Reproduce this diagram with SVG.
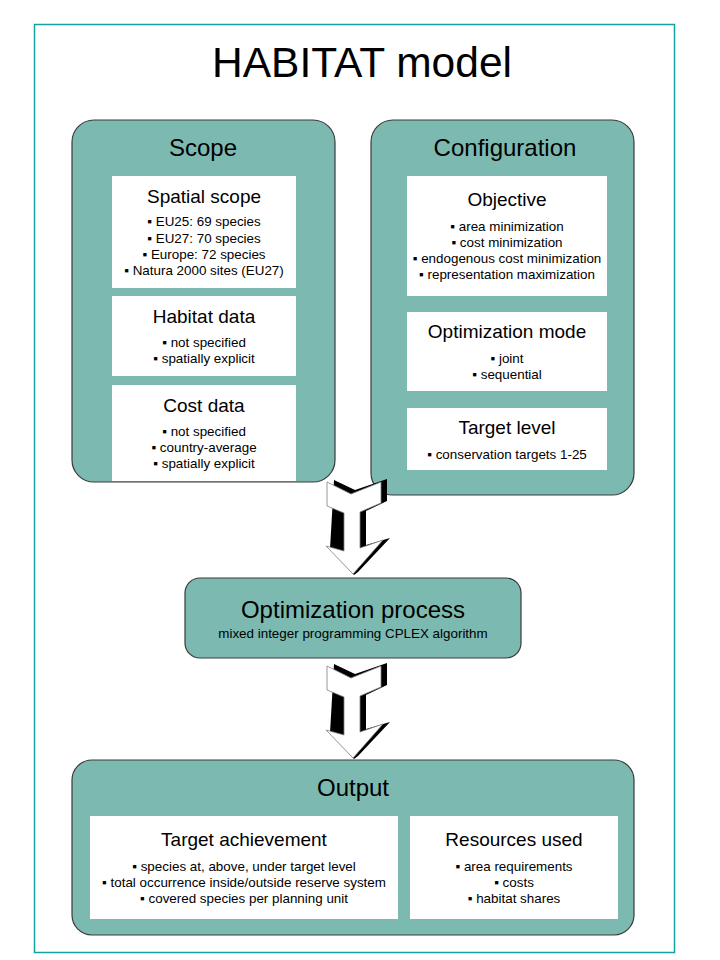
<svg xmlns="http://www.w3.org/2000/svg" width="720" height="960" viewBox="0 0 720 960">
<defs>
<style>
.panel{fill:#7cb9b0;stroke:#3a3a3a;stroke-width:1.2}
.card{fill:#ffffff}
.t{font-family:"Liberation Sans",Arial,sans-serif;fill:#000;text-anchor:middle}
.h1{font-size:42.5px}
.h2{font-size:24px}
.h3{font-size:19px}
.li{font-size:13.4px}
.sh{fill:#000}
.ar{fill:#fff;stroke:#808080;stroke-width:0.8}
</style>
<g id="arrowShape">
<polygon class="sh" points="334,480 355,490 387,479 387,501 366,511 366,545 390,538 358,572 354,575 330,549"/>
<polygon class="ar" points="327,482 351,494 381,482 381,503 360,512 360,548 383,540 353,574 326,546 344,551 344,513 327,506"/>
</g>
</defs>
<rect id="frame" x="34.5" y="24.5" width="640" height="928" fill="#fff" stroke="#16a0a0" stroke-width="1.5"/>
<text class="t h1" x="362" y="77">HABITAT model</text>

<g id="scope">
<rect class="panel" x="72" y="120" width="263" height="362" rx="22"/>
<text class="t h2" x="203" y="156">Scope</text>
</g>
<g id="spatial-scope">
<rect class="card" x="112" y="176" width="184" height="112"/>
<text class="t h3" x="204" y="203">Spatial scope</text>
<text class="t li" x="204" y="226">▪ EU25: 69 species</text>
<text class="t li" x="204" y="243">▪ EU27: 70 species</text>
<text class="t li" x="204" y="259">▪ Europe: 72 species</text>
<text class="t li" x="204" y="275">▪ Natura 2000 sites (EU27)</text>
</g>
<g id="habitat-data">
<rect class="card" x="112" y="296" width="184" height="80"/>
<text class="t h3" x="204" y="323">Habitat data</text>
<text class="t li" x="204" y="347">▪ not specified</text>
<text class="t li" x="204" y="363">▪ spatially explicit</text>
</g>
<g id="cost-data">
<rect class="card" x="112" y="385" width="184" height="96"/>
<text class="t h3" x="204" y="412">Cost data</text>
<text class="t li" x="204" y="436">▪ not specified</text>
<text class="t li" x="204" y="452">▪ country-average</text>
<text class="t li" x="204" y="468">▪ spatially explicit</text>
</g>

<g id="configuration">
<rect class="panel" x="371" y="120" width="263" height="375" rx="22"/>
<text class="t h2" x="505" y="156">Configuration</text>
</g>
<g id="objective">
<rect class="card" x="407" y="176" width="200" height="120"/>
<text class="t h3" x="507" y="206">Objective</text>
<text class="t li" x="507" y="231">▪ area minimization</text>
<text class="t li" x="507" y="247">▪ cost minimization</text>
<text class="t li" x="507" y="263">▪ endogenous cost minimization</text>
<text class="t li" x="507" y="279">▪ representation maximization</text>
</g>
<g id="optimization-mode">
<rect class="card" x="407" y="312" width="200" height="79"/>
<text class="t h3" x="507" y="338">Optimization mode</text>
<text class="t li" x="507" y="363">▪ joint</text>
<text class="t li" x="507" y="379">▪ sequential</text>
</g>
<g id="target-level">
<rect class="card" x="407" y="408" width="200" height="62"/>
<text class="t h3" x="507" y="434">Target level</text>
<text class="t li" x="507" y="459">▪ conservation targets 1-25</text>
</g>

<g id="optimization-process">
<rect class="panel" x="185" y="578" width="336" height="80" rx="15"/>
<text class="t h2" x="353" y="618">Optimization process</text>
<text class="t li" x="353" y="638">mixed integer programming CPLEX algorithm</text>
</g>

<g id="output">
<rect class="panel" x="72" y="760" width="562" height="175" rx="20"/>
<text class="t h2" x="353" y="796">Output</text>
</g>
<g id="target-achievement">
<rect class="card" x="90" y="816" width="308" height="103"/>
<text class="t h3" x="244" y="846">Target achievement</text>
<text class="t li" x="244" y="871">▪ species at, above, under target level</text>
<text class="t li" x="244" y="887">▪ total occurrence inside/outside reserve system</text>
<text class="t li" x="244" y="903">▪ covered species per planning unit</text>
</g>
<g id="resources-used">
<rect class="card" x="410" y="816" width="208" height="103"/>
<text class="t h3" x="514" y="846">Resources used</text>
<text class="t li" x="514" y="871">▪ area requirements</text>
<text class="t li" x="514" y="887">▪ costs</text>
<text class="t li" x="514" y="903">▪ habitat shares</text>
</g>

<g id="connectors">
<use href="#arrowShape"/>
<use href="#arrowShape" transform="translate(0,184)"/>
</g>
</svg>
